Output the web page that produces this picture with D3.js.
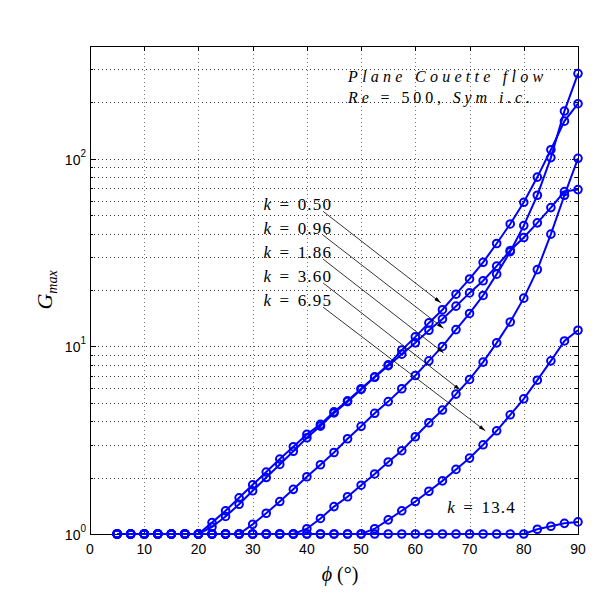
<!DOCTYPE html>
<html>
<head>
<meta charset="utf-8">
<script src="https://cdn.jsdelivr.net/npm/d3@7"></script>
<style>
  body { margin: 0; background: #fff; }
  svg { display: block; }
</style>
</head>
<body>
<div id="chart"></div>
<script>
// angle of the wave, degrees
const phi = [5, 7.5, 10, 12.5, 15, 17.5, 20, 22.5, 25, 27.5, 30, 32.5, 35, 37.5, 40, 42.5, 45,
    47.5, 50, 52.5, 55, 57.5, 60, 62.5, 65, 67.5, 70, 72.5, 75, 77.5, 80, 82.5, 85, 87.5, 90];

// G_max for each k
const gK050 = [1, 1, 1, 1, 1, 1, 1, 1.15, 1.33, 1.56, 1.83, 2.14, 2.51, 2.92, 3.40, 3.84, 4.48,
    5.13, 5.95, 6.89, 7.98, 9.56, 11.25, 13.35, 15.7, 19.0, 22.9, 28.1, 35.4, 45.0, 58.7, 80.0, 112, 159, 197];
const gK096 = [1, 1, 1, 1, 1, 1, 1, 1.09, 1.24, 1.44, 1.70, 2.00, 2.35, 2.76, 3.26, 3.76, 4.42,
    5.08, 5.90, 6.85, 7.90, 9.10, 10.45, 12.2, 14.0, 16.4, 19.3, 22.4, 26.8, 32.5, 38.1, 45.6, 55.0, 67.0, 68.6];
const gK186 = [1, 1, 1, 1, 1, 1, 1, 1, 1, 1, 1.126, 1.29, 1.49, 1.73, 2.02, 2.34, 2.72,
    3.22, 3.75, 4.40, 5.08, 5.95, 7.0, 8.38, 10.0, 12.3, 15.0, 18.7, 24.3, 32.0, 44.1, 64.0, 101.6, 180, 285];
const gK360 = [1, 1, 1, 1, 1, 1, 1, 1, 1, 1, 1, 1, 1, 1, 1.067, 1.21, 1.40,
    1.58, 1.82, 2.09, 2.42, 2.78, 3.30, 3.92, 4.58, 5.57, 6.67, 8.25, 10.45, 13.5, 18.1, 25.7, 39.7, 64.0, 100.7];
const gK695 = [1, 1, 1, 1, 1, 1, 1, 1, 1, 1, 1, 1, 1, 1, 1, 1, 1,
    1, 1, 1.067, 1.19, 1.33, 1.49, 1.69, 1.92, 2.21, 2.54, 2.99, 3.55, 4.32, 5.26, 6.61, 8.38, 10.7, 12.2];
const gK134 = [1, 1, 1, 1, 1, 1, 1, 1, 1, 1, 1, 1, 1, 1, 1, 1, 1,
    1, 1, 1, 1, 1, 1, 1, 1, 1, 1, 1, 1, 1, 1, 1.06, 1.10, 1.14, 1.16];

const seriesList = [gK050, gK096, gK186, gK360, gK695, gK134];

const xTicks = [0, 10, 20, 30, 40, 50, 60, 70, 80, 90];
const yMajor = [1, 10, 100];
const yExp = ["0", "1", "2"];

// k labels with arrows: text anchor, arrow start, arrow tip (phi, G)
const kLabels = ["0.50", "0.96", "1.86", "3.60", "6.95"];
const labelPhi = [32.0, 32.0, 32.0, 32.0, 32.0];
const labelG = [53.2, 39.7, 29.5, 22.0, 16.4];
const arrowFromPhi = [43.0, 43.0, 43.0, 43.0, 43.0];
const arrowFromG = [52.5, 39.2, 29.2, 21.8, 16.2];
const arrowToPhi = [64.7, 65.2, 65.2, 68.3, 72.9];
const arrowToG = [17.1, 12.5, 9.25, 5.85, 3.55];

const margin = {top: 46, right: 21, bottom: 65, left: 90};
const width = 599 - margin.left - margin.right;
const height = 599 - margin.top - margin.bottom;
const blue = "#0000ff";
const serif = "'Liberation Serif', 'DejaVu Serif', serif";
const sans = "'Liberation Sans', Arial, sans-serif";

const svg = d3.select("#chart").append("svg")
    .attr("width", 599)
    .attr("height", 599);

const g = svg.append("g")
    .attr("transform", "translate(" + margin.left + "," + margin.top + ")");

const x = d3.scaleLinear().domain([0, 90]).range([0, width]);
const y = d3.scaleLog().domain([1, 400]).range([height, 0]);

// minor + major log values for grid / ticks
const yAll = [];
[1, 10, 100].forEach(function (dec) {
    for (let m = 1; m <= 9; m++) {
        if (dec * m <= 400) yAll.push(dec * m);
    }
});

// grid
g.append("g").selectAll("line.hg")
    .data(yAll.filter(function (v) { return v > 1; }))
    .enter().append("line")
    .attr("x1", 0).attr("x2", width)
    .attr("y1", function (d) { return Math.round(y(d)) + 0.5; })
    .attr("y2", function (d) { return Math.round(y(d)) + 0.5; })
    .attr("stroke", "#333")
    .attr("stroke-width", 1)
    .attr("stroke-dasharray", "1,3");

g.append("g").selectAll("line.vg")
    .data(xTicks.slice(1, -1))
    .enter().append("line")
    .attr("y1", 0).attr("y2", height)
    .attr("x1", function (d) { return Math.round(x(d)) + 0.5; })
    .attr("x2", function (d) { return Math.round(x(d)) + 0.5; })
    .attr("stroke", "#777")
    .attr("stroke-width", 1)
    .attr("stroke-dasharray", "1,3");

// frame
g.append("rect")
    .attr("x", 0.5).attr("y", 0.5)
    .attr("width", width).attr("height", height)
    .attr("fill", "none")
    .attr("stroke", "#000")
    .attr("stroke-width", 1);

// ticks, inside on all four sides
const tickG = g.append("g").attr("stroke", "#000").attr("stroke-width", 1);
xTicks.forEach(function (t) {
    const px = Math.round(x(t)) + 0.5;
    tickG.append("line").attr("x1", px).attr("x2", px).attr("y1", height).attr("y2", height - 5);
    tickG.append("line").attr("x1", px).attr("x2", px).attr("y1", 0).attr("y2", 5);
});
yAll.forEach(function (v) {
    const py = Math.round(y(v)) + 0.5;
    const len = yMajor.indexOf(v) >= 0 ? 6 : 3;
    tickG.append("line").attr("x1", 0).attr("x2", len).attr("y1", py).attr("y2", py);
    tickG.append("line").attr("x1", width).attr("x2", width - len).attr("y1", py).attr("y2", py);
});

// tick labels
g.append("g").selectAll("text")
    .data(xTicks)
    .enter().append("text")
    .attr("x", function (d) { return x(d); })
    .attr("y", height + 20)
    .attr("text-anchor", "middle")
    .style("font-family", sans)
    .style("font-size", "14px")
    .text(function (d) { return d; });

const yLab = g.append("g").selectAll("text")
    .data(yMajor)
    .enter().append("text")
    .attr("x", -4)
    .attr("y", function (d) { return y(d) + 6; })
    .attr("text-anchor", "end")
    .style("font-family", sans)
    .style("font-size", "14px");
yLab.append("tspan").text("10");
yLab.append("tspan")
    .attr("dy", -8)
    .style("font-size", "10px")
    .text(function (d, i) { return yExp[i]; });

// curves
const line = d3.line()
    .x(function (d, i) { return x(phi[i]); })
    .y(function (d) { return y(d); });

seriesList.forEach(function (s) {
    g.append("path")
        .datum(s)
        .attr("d", line)
        .attr("fill", "none")
        .attr("stroke", blue)
        .attr("stroke-width", 2);
    g.append("g").selectAll("circle")
        .data(s)
        .enter().append("circle")
        .attr("cx", function (d, i) { return x(phi[i]); })
        .attr("cy", function (d) { return y(d); })
        .attr("r", 3.8)
        .attr("fill", "none")
        .attr("stroke", blue)
        .attr("stroke-width", 2);
});

// arrow head
svg.append("defs").append("marker")
    .attr("id", "head")
    .attr("viewBox", "0 0 10 6")
    .attr("refX", 10).attr("refY", 3)
    .attr("markerWidth", 10).attr("markerHeight", 4)
    .attr("markerUnits", "userSpaceOnUse")
    .attr("orient", "auto")
    .append("path")
    .attr("d", "M0,0 L10,3 L0,6 Z")
    .attr("fill", "#000");

function kText(sel, val) {
    sel.style("font-family", serif)
        .style("font-size", "17px");
    sel.append("tspan").style("font-style", "italic").text("k");
    sel.append("tspan").text("\u2002=\u2002");
    sel.append("tspan").style("letter-spacing", "1.2px").text(val);
}

// k labels + arrows
kLabels.forEach(function (k, i) {
    const t = g.append("text")
        .attr("x", x(labelPhi[i]))
        .attr("y", y(labelG[i]));
    kText(t, k);

    g.append("line")
        .attr("x1", x(arrowFromPhi[i])).attr("y1", y(arrowFromG[i]))
        .attr("x2", x(arrowToPhi[i])).attr("y2", y(arrowToG[i]))
        .attr("stroke", "#000")
        .attr("stroke-width", 0.8)
        .attr("marker-end", "url(#head)");
});

const k13 = g.append("text")
    .attr("x", x(65.9))
    .attr("y", y(1.30));
kText(k13, "13.4");

// title block
g.append("text")
    .attr("x", x(47.6))
    .attr("y", y(257))
    .attr("textLength", 195)
    .attr("lengthAdjust", "spacing")
    .style("font-family", serif)
    .style("font-style", "italic")
    .style("font-size", "16px")
    .text("Plane Couette flow");

const sub = g.append("text")
    .attr("x", x(47.6))
    .attr("y", y(198))
    .attr("textLength", 182)
    .attr("lengthAdjust", "spacing")
    .style("font-family", serif)
    .style("font-size", "16px");
sub.append("tspan").style("font-style", "italic").text("Re");
sub.append("tspan").text(" = 500, ");
sub.append("tspan").style("font-style", "italic").text("Sym i.c.");

// axis titles
const xt = svg.append("text")
    .attr("x", margin.left + width / 2 + 6)
    .attr("y", 581)
    .attr("text-anchor", "middle")
    .style("font-family", serif)
    .style("font-size", "20px");
xt.append("tspan").style("font-style", "italic").text("ϕ");
xt.append("tspan").text(" (°)");

const yt = svg.append("text")
    .attr("transform", "translate(52,290) rotate(-90)")
    .attr("text-anchor", "middle")
    .style("font-family", serif)
    .style("font-style", "italic")
    .style("font-size", "22px");
yt.append("tspan").text("G");
yt.append("tspan").attr("dy", 5).style("font-size", "14px").text("max");
</script>
</body>
</html>
